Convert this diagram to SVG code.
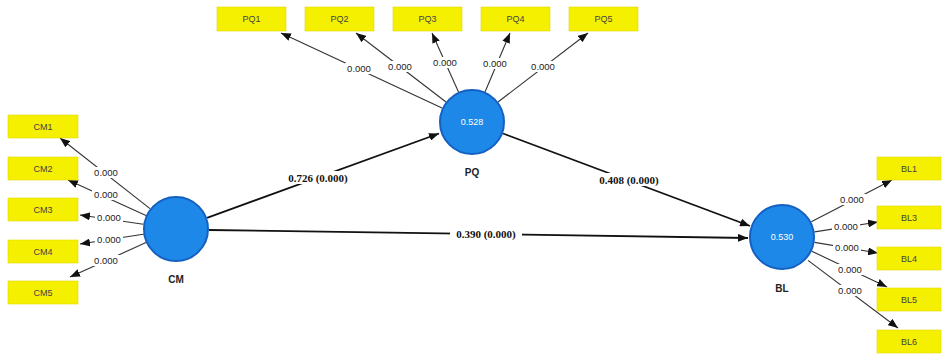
<svg xmlns="http://www.w3.org/2000/svg" width="943" height="354" viewBox="0 0 943 354">
<defs>
<marker id="ah" viewBox="0 0 10 8" refX="10" refY="4" markerWidth="10" markerHeight="8" markerUnits="userSpaceOnUse" orient="auto">
<path d="M0,0 L10,4 L0,8 z" fill="#111"/>
</marker>
<style>
.ind rect{fill:#f5ef00;stroke:#e0da00;stroke-width:0.6}
.ind text{font-family:"Liberation Sans",Arial,sans-serif;font-size:9px;fill:#444;text-anchor:middle}
.lv circle{fill:#1e88e8;stroke:#1560c0;stroke-width:2}
.lv text.r2{font-family:"Liberation Sans",Arial,sans-serif;font-size:9px;fill:#fff;text-anchor:middle}
.lv text.nm{font-family:"Liberation Sans",Arial,sans-serif;font-size:10px;font-weight:bold;fill:#222;text-anchor:middle}
.ld{stroke:#333;stroke-width:1.1;fill:none;marker-end:url(#ah)}
.pth{stroke:#111;stroke-width:1.8;fill:none;marker-end:url(#ah)}
.lb rect{fill:#fff}
.lb text{font-family:"Liberation Sans",Arial,sans-serif;font-size:9.5px;fill:#222;text-anchor:middle}
.pl text{font-family:"Liberation Serif","Times New Roman",serif;font-size:11px;font-weight:bold;fill:#111;text-anchor:middle}
</style>
</defs>
<rect width="943" height="354" fill="#fff"/>

<g id="connectors">
<!-- PQ loadings -->
<line class="ld" x1="442" y1="108" x2="281" y2="33"/>
<line class="ld" x1="446" y1="102" x2="356" y2="33"/>
<line class="ld" x1="458.5" y1="92" x2="432" y2="33"/>
<line class="ld" x1="485" y1="92" x2="510" y2="33"/>
<line class="ld" x1="498" y1="102" x2="588" y2="33"/>
<!-- CM loadings -->
<line class="ld" x1="150" y1="208.6" x2="60" y2="138"/>
<line class="ld" x1="146" y1="215.4" x2="68" y2="180"/>
<line class="ld" x1="143.3" y1="224.2" x2="80" y2="215"/>
<line class="ld" x1="144.8" y1="234" x2="80" y2="244"/>
<line class="ld" x1="146" y1="242.6" x2="70" y2="277"/>
<!-- BL loadings -->
<line class="ld" x1="811.3" y1="221.8" x2="892" y2="180"/>
<line class="ld" x1="814.6" y1="231.9" x2="878" y2="222"/>
<line class="ld" x1="814.6" y1="242.4" x2="878" y2="253"/>
<line class="ld" x1="811.8" y1="251.2" x2="887" y2="287"/>
<line class="ld" x1="808" y1="260.4" x2="898" y2="328"/>
<!-- paths -->
<line class="pth" x1="207" y1="217.8" x2="439" y2="133.5"/>
<line class="pth" x1="503" y1="133.5" x2="750" y2="226"/>
<line class="pth" x1="209" y1="230" x2="748" y2="238"/>

<g class="lb">
<rect x="345" y="63" width="28" height="11"/><text x="359" y="72">0.000</text>
<rect x="386" y="61" width="28" height="11"/><text x="400" y="70">0.000</text>
<rect x="431" y="57" width="28" height="11"/><text x="445" y="66">0.000</text>
<rect x="481" y="58" width="28" height="11"/><text x="495" y="67">0.000</text>
<rect x="529" y="61" width="28" height="11"/><text x="543" y="70">0.000</text>

<rect x="92" y="167" width="28" height="11"/><text x="106" y="176">0.000</text>
<rect x="92" y="189" width="28" height="11"/><text x="106" y="198">0.000</text>
<rect x="95" y="212" width="28" height="11"/><text x="109" y="221">0.000</text>
<rect x="95" y="234" width="28" height="11"/><text x="109" y="243">0.000</text>
<rect x="92" y="255" width="28" height="11"/><text x="106" y="264">0.000</text>

<rect x="838" y="194" width="28" height="11"/><text x="852" y="203">0.000</text>
<rect x="832" y="221" width="28" height="11"/><text x="846" y="230">0.000</text>
<rect x="833" y="242" width="28" height="11"/><text x="847" y="251">0.000</text>
<rect x="836" y="264" width="28" height="11"/><text x="850" y="273">0.000</text>
<rect x="836" y="285" width="28" height="11"/><text x="850" y="294">0.000</text>
</g>
<g class="pl">
<rect x="284" y="171" width="68" height="13" fill="#fff"/><text x="318" y="182">0.726 (0.000)</text>
<rect x="595" y="173" width="68" height="13" fill="#fff"/><text x="629" y="184">0.408 (0.000)</text>
<rect x="450" y="227" width="72" height="13" fill="#fff"/><text x="486" y="238">0.390 (0.000)</text>
</g>
</g>

<g id="PQ1" class="ind"><rect x="217" y="7" width="69" height="24"/><text x="251.5" y="22">PQ1</text></g>
<g id="PQ2" class="ind"><rect x="305" y="7" width="69" height="24"/><text x="339.5" y="22">PQ2</text></g>
<g id="PQ3" class="ind"><rect x="393" y="7" width="69" height="24"/><text x="427.5" y="22">PQ3</text></g>
<g id="PQ4" class="ind"><rect x="481" y="7" width="69" height="24"/><text x="515.5" y="22">PQ4</text></g>
<g id="PQ5" class="ind"><rect x="569" y="7" width="69" height="24"/><text x="603.5" y="22">PQ5</text></g>

<g id="CM1" class="ind"><rect x="8" y="115" width="70" height="23"/><text x="43" y="130">CM1</text></g>
<g id="CM2" class="ind"><rect x="8" y="157" width="70" height="23"/><text x="43" y="172">CM2</text></g>
<g id="CM3" class="ind"><rect x="8" y="198" width="70" height="23"/><text x="43" y="213">CM3</text></g>
<g id="CM4" class="ind"><rect x="8" y="240" width="70" height="23"/><text x="43" y="255">CM4</text></g>
<g id="CM5" class="ind"><rect x="8" y="281" width="70" height="23"/><text x="43" y="296">CM5</text></g>

<g id="BL1" class="ind"><rect x="877" y="157" width="64" height="23"/><text x="909" y="172">BL1</text></g>
<g id="BL3" class="ind"><rect x="877" y="206" width="64" height="23"/><text x="909" y="221">BL3</text></g>
<g id="BL4" class="ind"><rect x="877" y="247" width="64" height="23"/><text x="909" y="262">BL4</text></g>
<g id="BL5" class="ind"><rect x="877" y="288" width="64" height="23"/><text x="909" y="303">BL5</text></g>
<g id="BL6" class="ind"><rect x="877" y="330" width="64" height="23"/><text x="909" y="345">BL6</text></g>

<g id="PQ" class="lv"><circle cx="472" cy="122" r="32"/><text class="r2" x="472" y="125">0.528</text><text class="nm" x="472" y="176">PQ</text></g>
<g id="CM" class="lv"><circle cx="176" cy="229" r="32"/><text class="nm" x="176" y="283">CM</text></g>
<g id="BL" class="lv"><circle cx="782" cy="237" r="32"/><text class="r2" x="782" y="240">0.530</text><text class="nm" x="782" y="292">BL</text></g>
</svg>
